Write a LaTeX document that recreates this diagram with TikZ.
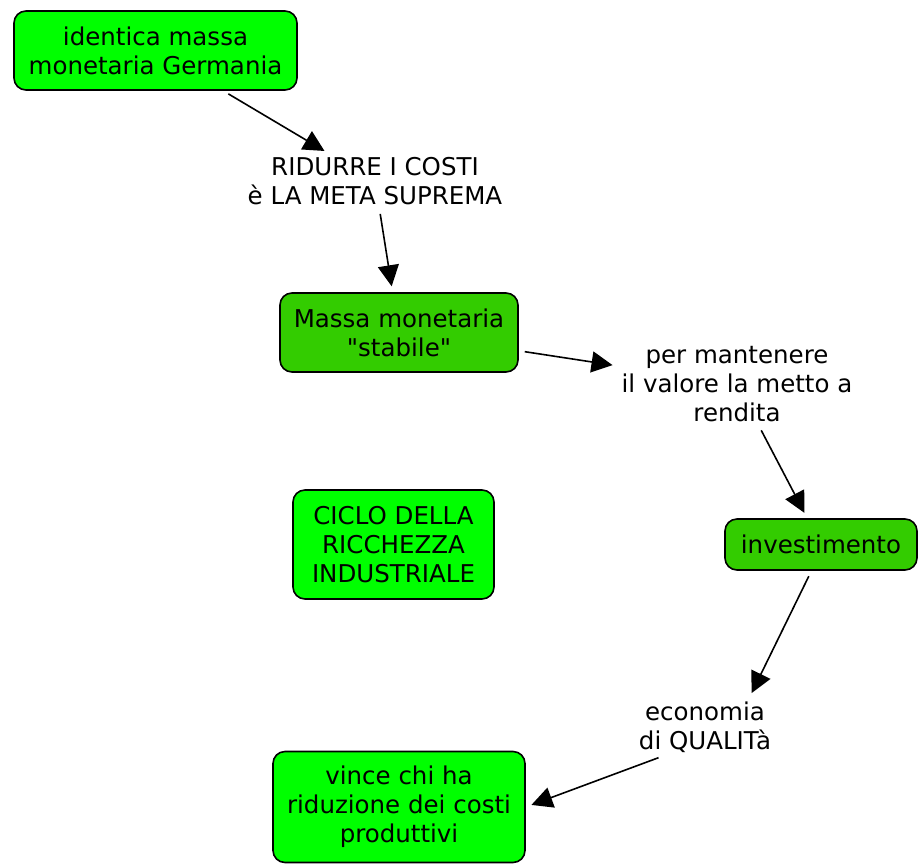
\documentclass[tikz,border=0pt]{standalone}
\usepackage{fontspec}
\setmainfont{DejaVu Sans}
\usetikzlibrary{arrows.meta,positioning}
\definecolor{brightgreen}{HTML}{00FF00}
\definecolor{midgreen}{HTML}{33CC00}
\tikzset{
    concept/.style={draw=black, line width=1.6pt, rounded corners=12pt, align=center,
        inner sep=0pt, font=\fontsize{24.5}{29}\selectfont},
    linkphrase/.style={align=center, inner sep=3pt, font=\fontsize{24.5}{29}\selectfont},
    link/.style={line width=1.6pt, -{Triangle[length=21pt,width=21pt]},
        shorten >=6pt, shorten <=6pt}
}
\begin{document}
\begin{tikzpicture}[x=1pt,y=-1pt]
    \useasboundingbox[fill=white] (0,0) rectangle (918,863);
    % Concepts
    \node[concept, fill=brightgreen, minimum width=283pt, minimum height=79pt] (idmassa) at (155.5,50.5) {identica massa\\monetaria Germania};
    \node[concept, fill=midgreen, minimum width=238pt, minimum height=79pt] (stabile) at (399,332.5) {Massa monetaria\\\textquotedbl stabile\textquotedbl};
    \node[concept, fill=midgreen, minimum width=192pt, minimum height=51pt] (invest) at (821,544.5) {investimento};
    \node[concept, fill=brightgreen, minimum width=201pt, minimum height=109pt] (ciclo) at (393.5,544.5) {CICLO DELLA\\RICCHEZZA\\INDUSTRIALE};
    \node[concept, fill=brightgreen, minimum width=252pt, minimum height=111pt] (vince) at (399,807) {vince chi ha\\riduzione dei costi\\produttivi};

    % Linking phrases
    \node[linkphrase] (ridurre) at (375,181) {RIDURRE I COSTI\\è LA META SUPREMA};
    \node[linkphrase] (rendita) at (737,384) {per mantenere\\il valore la metto a\\rendita};
    \node[linkphrase] (econ) at (705,727) {economia\\di QUALITà};

    % Connections
    \draw[link] (idmassa) -- (ridurre);
    \draw[link] (ridurre) -- (stabile);
    \draw[link] (stabile) -- (rendita);
    \draw[link] (rendita) -- (invest);
    \draw[link] (invest.-110) -- (econ.33);
    \draw[link] (econ.215) -- (vince.east);
\end{tikzpicture}
\end{document}
